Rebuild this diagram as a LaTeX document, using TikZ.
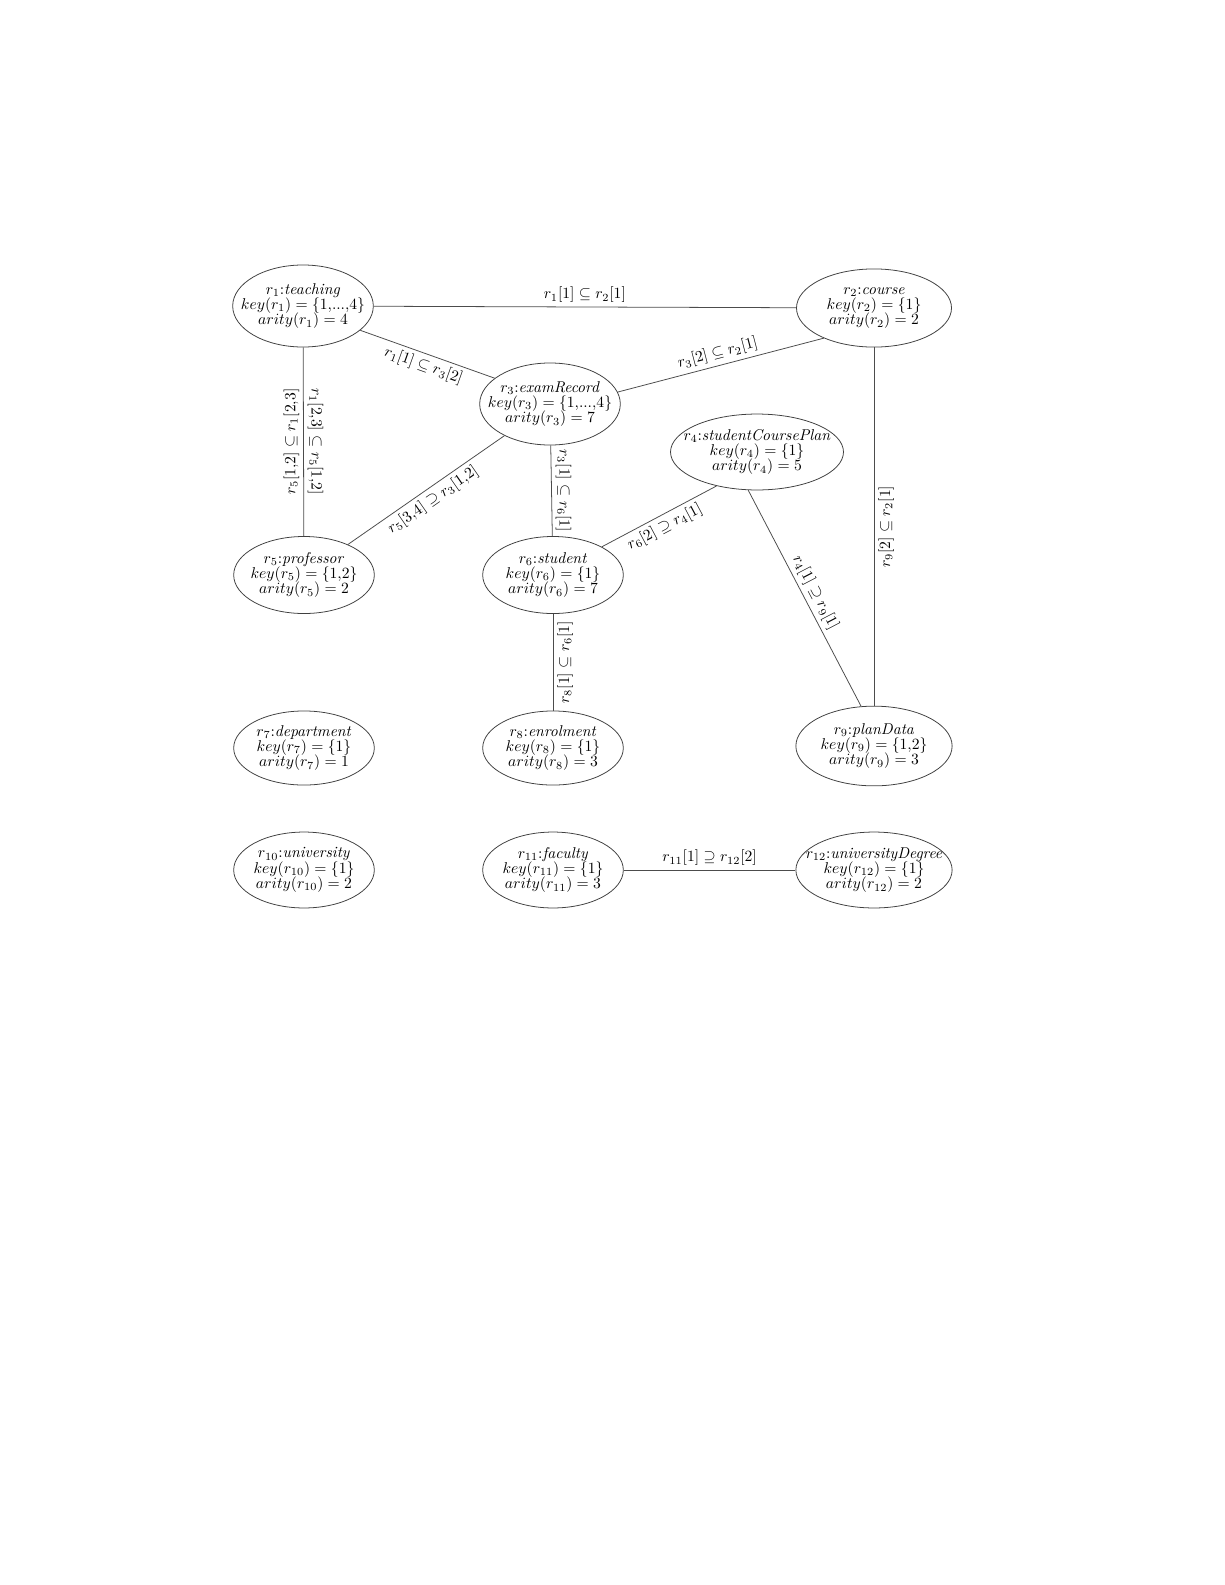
\documentclass[tikz,border=0pt]{standalone}
\usetikzlibrary{shapes.geometric}
\newcommand{\reltightfont}{\fontsize{10}{9.8}\selectfont\lineskiplimit=-5pt\relax}
\newcommand{\cm}{{,}}
\begin{document}
\begin{tikzpicture}[x=0.64pt,y=-0.64pt,
  rel/.style={ellipse,draw=black!75,line width=0.5pt,inner sep=0pt,minimum width=90pt,minimum height=50pt},
  reltext/.style={align=center,inner sep=0pt,font=\reltightfont},
  conn/.style={draw=black!70,line width=0.5pt},
  lab/.style={font=\fontsize{10}{12}\selectfont,inner sep=2.5pt}]
\useasboundingbox (0,0) rectangle (1225,1585);

% relation ellipses
\node[rel,minimum height=52.5pt] (r1) at (303,306) {};
\node[rel,minimum width=99.2pt] (r2) at (874,308) {};
\node[rel,minimum height=52.5pt] (r3) at (550,404) {};
\node[rel,minimum width=110.7pt,minimum height=48.6pt] (r4) at (757,452) {};
\node[rel,minimum height=49.3pt] (r5) at (304,575) {};
\node[rel,minimum height=49.3pt] (r6) at (553,575) {};
\node[rel,minimum height=47.4pt] (r7) at (304,748) {};
\node[rel,minimum height=47.4pt] (r8) at (553,748) {};
\node[rel,minimum width=100pt,minimum height=51pt] (r9) at (874,746) {};
\node[rel,minimum height=48.6pt] (r10) at (304,870) {};
\node[rel,minimum height=48.6pt] (r11) at (553,870) {};
\node[rel,minimum width=100pt,minimum height=48.6pt] (r12) at (874,870) {};

% texts
\node[reltext] (t1) at (r1) {$r_1$:\textit{teaching}\\ $key(r_1) = \{1\cm...\cm4\}$\\ $arity(r_1) = 4$};
\node[reltext] (t2) at (r2) {$r_2$:\textit{course}\\ $key(r_2) = \{1\}$\\ $arity(r_2) = 2$};
\node[reltext] (t3) at (r3) {$r_3$:\textit{examRecord}\\ $key(r_3) = \{1\cm...\cm4\}$\\ $arity(r_3) = 7$};
\node[reltext] (t4) at (r4) {$r_4$:\textit{studentCoursePlan}\\ $key(r_4) = \{1\}$\\ $arity(r_4) = 5$};
\node[reltext] (t5) at (r5) {$r_5$:\textit{professor}\\ $key(r_5) = \{1\cm2\}$\\ $arity(r_5) = 2$};
\node[reltext] (t6) at (r6) {$r_6$:\textit{student}\\ $key(r_6) = \{1\}$\\ $arity(r_6) = 7$};
\node[reltext] (t7) at (r7) {$r_7$:\textit{department}\\ $key(r_7) = \{1\}$\\ $arity(r_7) = 1$};
\node[reltext] (t8) at (r8) {$r_8$:\textit{enrolment}\\ $key(r_8) = \{1\}$\\ $arity(r_8) = 3$};
\node[reltext] (t9) at (r9) {$r_9$:\textit{planData}\\ $key(r_9) = \{1\cm2\}$\\ $arity(r_9) = 3$};
\node[reltext] (t10) at (r10) {$r_{10}$:\textit{university}\\ $key(r_{10}) = \{1\}$\\ $arity(r_{10}) = 2$};
\node[reltext] (t11) at (r11) {$r_{11}$:\textit{faculty}\\ $key(r_{11}) = \{1\}$\\ $arity(r_{11}) = 3$};
\node[reltext] (t12) at (r12) {$r_{12}$:\textit{universityDegree}\\ $key(r_{12}) = \{1\}$\\ $arity(r_{12}) = 2$};

% connectors
\draw[conn] (r1) -- node[lab,midway,above] (l12) {$r_1[1] \subseteq r_2[1]$} (r2);
\draw[conn] (r1.-23) -- node[lab,midway,sloped,below] (l13) {$r_1[1] \subseteq r_3[2]$} (r3.155);
\draw[conn] (r3.10) -- node[lab,midway,sloped,above] (l32) {$r_3[2] \subseteq r_2[1]$} (r2.211);
\draw[conn] (r1) -- node[lab,midway,rotate=90,anchor=south] (l15a) {$r_5[1\cm2] \subseteq r_1[2\cm3]$}
                    node[lab,midway,rotate=-90,anchor=south] (l15b) {$r_1[2\cm3] \subseteq r_5[1\cm2]$} (r5);
\draw[conn] (r5) -- node[lab,midway,sloped,below] (l53) {$r_5[3\cm4] \supseteq r_3[1\cm2]$} (r3);
\draw[conn] (r3) -- node[lab,midway,rotate=-90,anchor=south] (l36) {$r_3[1] \subseteq r_6[1]$} (r6);
\draw[conn] (r6.30) -- node[lab,midway,sloped,below] (l64) {$r_6[2] \supseteq r_4[1]$} (r4.220);
\draw[conn] (r4.257) -- node[lab,midway,sloped,above] (l49) {$r_4[1] \supseteq r_9[1]$} (r9.108);
\draw[conn] (r2) -- node[lab,midway,rotate=90,anchor=north] (l29) {$r_9[2] \subseteq r_2[1]$} (r9);
\draw[conn] (r6) -- node[lab,midway,rotate=90,anchor=north] (l68) {$r_8[1] \subseteq r_6[1]$} (r8);
\draw[conn] (r11) -- node[lab,midway,above] (l1112) {$r_{11}[1] \supseteq r_{12}[2]$} (r12);
\end{tikzpicture}
\end{document}
